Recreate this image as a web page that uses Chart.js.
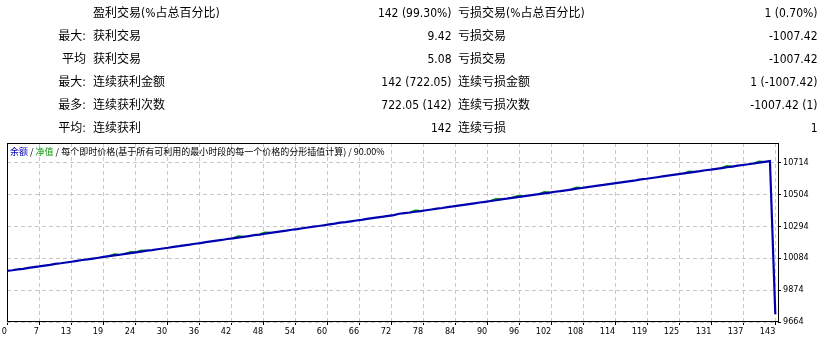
<!DOCTYPE html>
<html><head><meta charset="utf-8">
<script src="https://cdn.jsdelivr.net/npm/chart.js@4.4.1/dist/chart.umd.min.js"></script>
<style>
html,body{margin:0;padding:0;background:#fff;}
body{width:828px;height:339px;position:relative;overflow:hidden;font-family:"DejaVu Sans Condensed","Liberation Sans","Noto Sans CJK SC",sans-serif;color:#000;}
#c{position:absolute;left:0;top:0;}
.cell{position:absolute;height:22px;line-height:22px;font-size:12px;white-space:nowrap;}
#title{position:absolute;left:10px;top:146px;font-size:9px;line-height:12px;white-space:nowrap;font-family:"Noto Sans CJK SC","DejaVu Sans Condensed",sans-serif;color:#000;}
</style>
</head><body>
<canvas id="c" width="828" height="339"></canvas>
<div id="table"></div>
<div id="title"><span style="color:#0000b0">余额</span> / <span style="color:#009a00">净值</span> / 每个即时价格(基于所有可利用的最小时段的每一个价格的分形插值计算) / 90.00%</div>
<script>
// ---- report table ----
const rowPrefixes = ['', '最大:', '平均', '最大:', '最多:', '平均:'];
const winLabels = ['盈利交易(%占总百分比)', '获利交易', '获利交易', '连续获利金额', '连续获利次数', '连续获利'];
const winValues = ['142 (99.30%)', '9.42', '5.08', '142 (722.05)', '722.05 (142)', '142'];
const lossLabels = ['亏损交易(%占总百分比)', '亏损交易', '亏损交易', '连续亏损金额', '连续亏损次数', '连续亏损'];
const lossValues = ['1 (0.70%)', '-1007.42', '-1007.42', '1 (-1007.42)', '-1007.42 (1)', '1'];

// ---- chart data ----
const xTickLabels = [0, 7, 13, 19, 24, 30, 36, 42, 48, 54, 60, 66, 72, 78, 84, 90, 96, 102, 108, 114, 119, 125, 131, 137, 143];
const yTickValues = [9664, 9874, 10084, 10294, 10504, 10714];
const balance = [10000.00, 10004.12, 10009.72, 10013.57, 10019.78, 10024.25, 10029.28, 10035.16, 10039.52, 10046.27,
  10050.19, 10055.33, 10060.13, 10065.70, 10071.72, 10075.93, 10081.29, 10086.23, 10092.41, 10097.04,
  10102.33, 10106.31, 10112.02, 10116.87, 10122.27, 10126.82, 10133.15, 10137.17, 10142.35, 10147.11,
  10152.16, 10158.08, 10162.35, 10167.79, 10172.48, 10178.55, 10182.93, 10188.74, 10193.67, 10198.93,
  10203.43, 10209.87, 10213.83, 10219.35, 10224.06, 10229.15, 10234.78, 10238.95, 10244.29, 10250.41,
  10254.85, 10259.86, 10264.74, 10270.49, 10274.79, 10280.26, 10285.25, 10290.91, 10295.15, 10300.36,
  10305.94, 10310.67, 10316.96, 10320.85, 10325.97, 10331.40, 10336.05, 10342.02, 10346.50, 10351.65,
  10356.47, 10362.16, 10366.49, 10375.91, 10379.62, 10383.88, 10388.96, 10393.53, 10398.91, 10403.82,
  10409.46, 10413.65, 10418.92, 10423.78, 10429.71, 10434.11, 10439.27, 10444.05, 10449.60, 10454.22,
  10459.53, 10464.50, 10470.58, 10474.72, 10479.94, 10484.62, 10490.36, 10494.71, 10499.90, 10504.80,
  10510.26, 10514.78, 10520.63, 10524.92, 10530.03, 10534.87, 10540.47, 10544.92, 10550.29, 10555.25,
  10561.26, 10565.49, 10570.77, 10575.51, 10581.01, 10585.62, 10590.75, 10595.64, 10601.36, 10605.73,
  10610.97, 10615.92, 10621.59, 10625.91, 10630.97, 10635.78, 10641.37, 10645.83, 10651.03, 10655.90,
  10661.68, 10665.96, 10671.37, 10676.29, 10681.39, 10686.09, 10691.74, 10696.13, 10701.30, 10706.13,
  10711.67, 10716.65, 10722.05, 9714.63];
// equity differs from balance only at these trades (read from the small green bumps)
const equityTrades = [20, 23, 25, 43, 48, 76, 91, 95, 100, 106, 127, 134, 140];
const equityValues = [10110, 10125, 10134, 10227, 10252, 10397, 10472, 10492, 10518, 10548, 10654, 10689, 10720];

// build table
const tbl = document.getElementById('table');
const rowTops = [2, 25, 48, 71, 94, 117];
function cell(text, style) {
  const d = document.createElement('div');
  d.className = 'cell';
  d.textContent = text;
  Object.assign(d.style, style);
  tbl.appendChild(d);
}
for (let r = 0; r < rowPrefixes.length; r++) {
  const top = rowTops[r] + 'px';
  cell(rowPrefixes[r], {top, right: (828 - 86) + 'px', textAlign: 'right'});
  cell(winLabels[r], {top, left: '93px'});
  cell(winValues[r], {top, right: '376.5px', textAlign: 'right'});
  cell(lossLabels[r], {top, left: '458px'});
  cell(lossValues[r], {top, right: '10.5px', textAlign: 'right'});
}

const balancePts = balance.map((v, i) => ({x: i, y: v}));
const equityPts = balance.map((v, i) => {
  const k = equityTrades.indexOf(i);
  return {x: i, y: k >= 0 ? equityValues[k] : v};
});
const equityDiffers = i => equityTrades.indexOf(i) >= 0;

const framePlugin = {
  id: 'frame',
  afterDraw(chart) {
    const {ctx, chartArea: a} = chart;
    ctx.save();
    ctx.strokeStyle = '#000';
    ctx.lineWidth = 1;
    ctx.strokeRect(a.left + 0.5, a.top + 0.5, a.right - a.left, a.bottom - a.top - 1);
    ctx.restore();
  }
};

const tickFont = {family: '"DejaVu Sans Condensed","Liberation Sans",sans-serif', size: 9};
const xMax = 143.5;

new Chart(document.getElementById('c'), {
  type: 'line',
  data: {
    datasets: [
      {label: '余额', data: balancePts, borderColor: '#0000b0', borderWidth: 2.2, pointRadius: 0, tension: 0, fill: false},
      {label: '净值', data: equityPts, borderColor: '#00a000', borderWidth: 2, pointRadius: 0, tension: 0, fill: false,
        segment: {borderColor: c => (equityDiffers(c.p0DataIndex) || equityDiffers(c.p1DataIndex)) ? '#00a000' : 'rgba(0,0,0,0)'}}
    ]
  },
  options: {
    responsive: false,
    maintainAspectRatio: false,
    animation: false,
    devicePixelRatio: 1,
    layout: {padding: {top: 143, left: 7, right: 0, bottom: 0}},
    plugins: {legend: {display: false}, tooltip: {enabled: false}, title: {display: false}},
    scales: {
      x: {
        type: 'linear', min: 0, max: xMax,
        afterBuildTicks(scale) {
          const n = xTickLabels.length - 1;
          scale.ticks = xTickLabels.map((l, k) => ({value: k * 143 / n}));
        },
        afterFit(scale) { scale.height = 17; },
        ticks: {
          autoSkip: false, maxRotation: 0, minRotation: 0, align: 'end', padding: 1,
          color: '#000', font: tickFont,
          callback: (v, i) => String(xTickLabels[i])
        },
        grid: {color: '#c8c8c8', lineWidth: 1, tickColor: '#000', tickLength: 3, drawTicks: true},
        border: {display: false, dash: [4, 3]}
      },
      y: {
        type: 'linear', position: 'right', min: 9664, max: 10841,
        afterBuildTicks(scale) { scale.ticks = yTickValues.map(v => ({value: v})); },
        afterFit(scale) { scale.width = 50; },
        ticks: {autoSkip: false, padding: 2, color: '#000', font: tickFont, callback: v => String(v)},
        grid: {color: '#c8c8c8', lineWidth: 1, tickColor: '#000', tickLength: 3, drawTicks: true},
        border: {display: false, dash: [4, 3]}
      }
    }
  },
  plugins: [framePlugin]
});
</script>
</body></html>
